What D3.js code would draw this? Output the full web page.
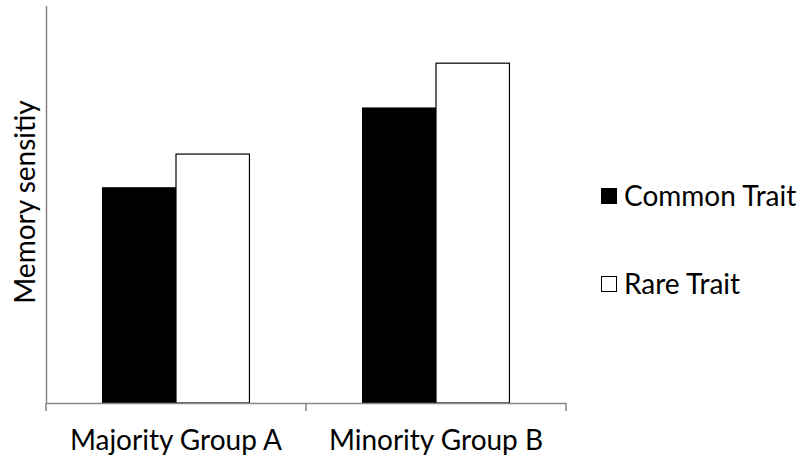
<!DOCTYPE html>
<html>
<head>
<meta charset="utf-8">
<script src="https://cdn.jsdelivr.net/npm/d3@7"></script>
<style>
  body { margin: 0; background: #fff; }
  text { font-family: Lato, "Open Sans", sans-serif; fill: #000; }
</style>
</head>
<body>
<svg width="802" height="458"></svg>
<script>
// data (y axis has no tick labels, so relative units)
var groups = ["Majority Group A", "Minority Group B"];
var series = ["Common Trait", "Rare Trait"];
var common = [0.542, 0.743];
var rare = [0.627, 0.856];
var fills = ["#000000", "#ffffff"];

var svg = d3.select("svg"),
    margin = {top: 6, right: 236, bottom: 55, left: 46},
    width = +svg.attr("width") - margin.left - margin.right,
    height = +svg.attr("height") - margin.top - margin.bottom,
    g = svg.append("g").attr("transform", "translate(" + margin.left + "," + margin.top + ")");

var rows = groups.map(function(d, i) {
  return {group: d, values: [common[i], rare[i]]};
});

var x0 = d3.scaleBand()
    .domain(groups)
    .range([0, width]);

var x1 = d3.scaleBand()
    .domain(series)
    .range([0, x0.bandwidth()])
    .paddingOuter(0.77);

var y = d3.scaleLinear()
    .domain([0, 1])
    .range([height, 0]);

// bars
var grp = g.selectAll(".grp")
    .data(rows)
  .enter().append("g")
    .attr("class", "grp")
    .attr("transform", function(d) { return "translate(" + x0(d.group) + ",0)"; });

grp.selectAll("rect")
    .data(function(d) { return d.values.map(function(v, i) { return {key: series[i], value: v, i: i}; }); })
  .enter().append("rect")
    .attr("x", function(d) { return x1(d.key); })
    .attr("y", function(d) { return y(d.value); })
    .attr("width", x1.bandwidth())
    .attr("height", function(d) { return height - y(d.value); })
    .attr("fill", function(d) { return fills[d.i]; })
    .attr("stroke", "#000")
    .attr("stroke-width", 1.2);

// axes
g.append("line")
    .attr("x1", 0.5).attr("x2", 0.5)
    .attr("y1", 0).attr("y2", height)
    .attr("stroke", "#868686")
    .attr("stroke-width", 1.5);

var xAxis = d3.axisBottom(x0)
    .tickValues([])
    .tickSizeOuter(0);

var ax = g.append("g")
    .attr("transform", "translate(0," + height + ")")
    .call(xAxis);
ax.select(".domain").attr("stroke", "#868686").attr("stroke-width", 1.5);

// tick marks at band edges
var edges = [0, x0.step(), width];
ax.selectAll(".edge")
    .data(edges)
  .enter().append("line")
    .attr("x1", function(d) { return d; })
    .attr("x2", function(d) { return d; })
    .attr("y1", 0).attr("y2", 8)
    .attr("stroke", "#868686")
    .attr("stroke-width", 1.5);

ax.selectAll(".lab")
    .data(groups)
  .enter().append("text")
    .attr("x", function(d) { return x0(d) + x0.bandwidth() / 2; })
    .attr("y", 47)
    .attr("text-anchor", "middle")
    .style("font-size", "28px")
    .text(function(d) { return d; });

// y title
svg.append("text")
    .attr("transform", "translate(35," + 202 + ") rotate(-90)")
    .attr("text-anchor", "middle")
    .style("font-size", "28px")
    .text("Memory sensitiy");

// legend
var legend = svg.selectAll(".legend")
    .data(series)
  .enter().append("g")
    .attr("class", "legend")
    .attr("transform", function(d, i) { return "translate(601," + (196 + i * 88) + ")"; });

legend.append("rect")
    .attr("x", 0.5).attr("y", -7.5)
    .attr("width", 15).attr("height", 15)
    .attr("fill", function(d, i) { return fills[i]; })
    .attr("stroke", "#000")
    .attr("stroke-width", 1);

legend.append("text")
    .attr("x", 23)
    .attr("y", 0)
    .attr("dy", "0.35em")
    .style("font-size", "28px")
    .text(function(d) { return d; });
</script>
</body>
</html>
